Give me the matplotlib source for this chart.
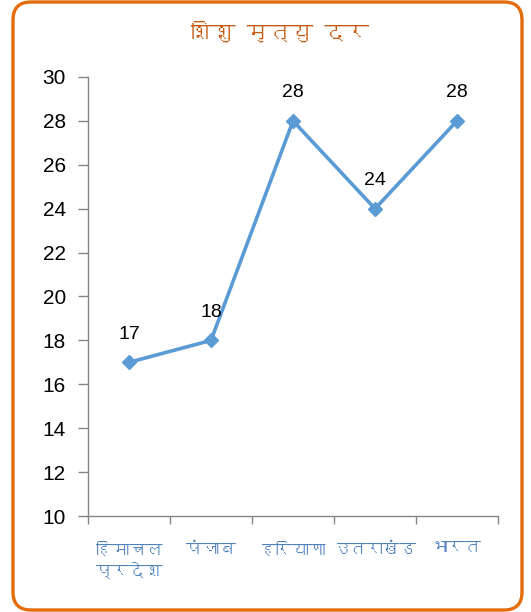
import matplotlib
matplotlib.use("Agg")
import matplotlib.pyplot as plt
from matplotlib import font_manager
from matplotlib.ft2font import FT2Font
from matplotlib.patches import FancyBboxPatch
from matplotlib.transforms import IdentityTransform

# Data: infant mortality rate by state
categories = ["हिमाचल\nप्रदेश", "पंजाब", "हरियाणा", "उतराखंड", "भारत"]
values = [17, 18, 28, 24, 28]
y_ticks = [10, 12, 14, 16, 18, 20, 22, 24, 26, 28, 30]
title = "शिशु मृत्यु दर"


def devanagari_family():
    """Return an installed family that covers Devanagari, if any."""
    for fe in font_manager.fontManager.ttflist:
        try:
            cmap = FT2Font(fe.fname).get_charmap()
        except Exception:
            continue
        if 0x0915 in cmap and 0x093F in cmap:
            return fe.name
    return None


deva = devanagari_family()
label_family = ([deva] if deva else []) + ["Liberation Sans", "DejaVu Sans"]
plt.rcParams["font.family"] = ["Liberation Sans", "DejaVu Sans"]

W, H, DPI = 531, 612, 100
fig = plt.figure(figsize=(W / DPI, H / DPI), dpi=DPI)
fig.patch.set_facecolor("white")

# Rounded orange frame around the chart
frame = FancyBboxPatch((13, 2), 509, 608,
                       boxstyle="round,pad=0,rounding_size=18",
                       transform=IdentityTransform(),
                       facecolor="none", edgecolor="#E46C0A", linewidth=2.4)
fig.patches.append(frame)

ax = fig.add_axes([88 / W, 1 - 516 / H, (498 - 88) / W, (516 - 77) / H])
x = list(range(len(values)))
ax.plot(x, values, color="#5B9BD5", linewidth=2.6, marker="D",
        markersize=7, markerfacecolor="#5B9BD5", markeredgecolor="#5B9BD5")

for xi, v in zip(x, values):
    ax.annotate(str(v), (xi, v), xytext=(0, 28), textcoords="offset pixels",
                ha="center", va="center", fontsize=14, color="black")

ax.set_xlim(-0.5, len(values) - 0.5)
ax.set_ylim(10, 30)
ax.set_yticks(y_ticks)
ax.set_yticklabels([str(t) for t in y_ticks], fontsize=15)

ax.set_xticks([i - 0.5 for i in range(len(values) + 1)], minor=False)
ax.set_xticklabels([])
ax.set_xticks(x, minor=True)
ax.set_xticklabels(categories, minor=True, fontsize=12, color="#4F81BD",
                   family=label_family, linespacing=1.35)
ax.tick_params(axis="x", which="minor", length=0, pad=19)
ax.tick_params(axis="x", which="major", length=6, direction="out",
               color="#868686", width=1)
ax.tick_params(axis="y", length=7, direction="out", color="#868686",
               width=1, pad=9)

for side in ("top", "right"):
    ax.spines[side].set_visible(False)
for side in ("left", "bottom"):
    ax.spines[side].set_color("#868686")
    ax.spines[side].set_linewidth(1)

fig.text(280 / W, 1 - 32 / H, title, ha="center", va="center",
         fontsize=16, fontweight="bold", color="#C55A11", family=label_family)

fig.savefig("out.png", dpi=DPI)
